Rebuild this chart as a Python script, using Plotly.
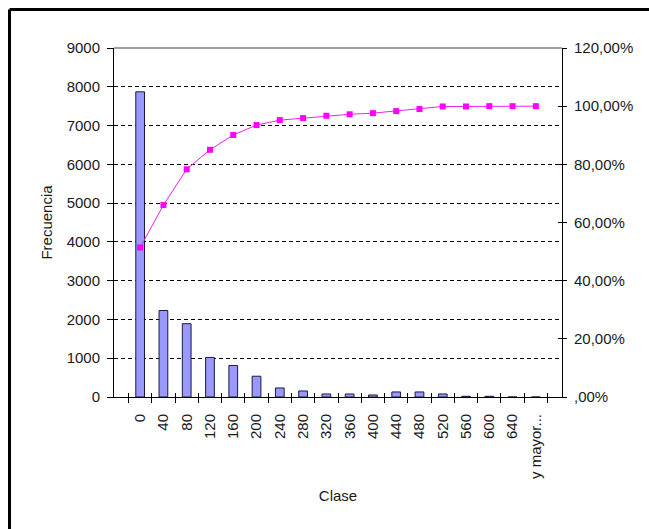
import plotly.graph_objects as go

clases = ["0", "40", "80", "120", "160", "200", "240", "280", "320", "360",
          "400", "440", "480", "520", "560", "600", "640", "y mayor..."]
frecuencia = [7870, 2230, 1890, 1020, 813, 536, 233, 155, 78, 78,
              52, 130, 130, 78, 18, 18, 0, 0]
acumulado_pct = [51.4, 66.0, 78.3, 85.0, 90.1, 93.5, 95.2, 95.9, 96.7, 97.2,
                 97.6, 98.3, 99.0, 99.9, 99.9, 100.0, 100.0, 100.0]

left_ticks = [0, 1000, 2000, 3000, 4000, 5000, 6000, 7000, 8000, 9000]
right_tickvals = [0, 20, 40, 60, 80, 100, 120]
right_ticktext = [",00%", "20,00%", "40,00%", "60,00%", "80,00%", "100,00%", "120,00%"]

FONT = "Liberation Sans, Arial, sans-serif"
TXT = "#1a1a1a"
FS = 15

fig = go.Figure()
fig.add_trace(go.Bar(
    x=clases, y=frecuencia, name="Frecuencia",
    marker=dict(color="#9999FF", line=dict(color="#1a1a3a", width=1)),
    xaxis="x", yaxis="y",
))
fig.add_trace(go.Scatter(
    x=clases, y=acumulado_pct, name="% acumulado", mode="lines+markers",
    line=dict(color="#F020F0", width=1),
    marker=dict(symbol="square", size=6, color="#FF00FF"),
    xaxis="x", yaxis="y2",
))
# invisible helper trace so the overlay axes draw the inner half of the crossing ticks
fig.add_trace(go.Scatter(
    x=clases, y=acumulado_pct, mode="markers", opacity=0,
    marker=dict(size=1), hoverinfo="skip", showlegend=False,
    xaxis="x2", yaxis="y3",
))

W, H = 649, 529
L, T = 114, 48
pw, ph = 448, 349
R, B = W - L - pw, H - T - ph

def px2x(p):
    return (p - L) / pw

def px2y(p):
    return (T + ph - p) / ph

tick_font = dict(family=FONT, size=FS, color=TXT)

fig.update_layout(
    width=W, height=H,
    margin=dict(l=L, r=R, t=T, b=B, pad=0),
    paper_bgcolor="white", plot_bgcolor="white",
    showlegend=False,
    bargap=0.625,
    font=dict(family=FONT, size=FS, color=TXT),
    xaxis=dict(
        type="category", categoryorder="array", categoryarray=clases,
        tickangle=-90, ticks="outside", ticklen=5, tickcolor="black",
        tickson="boundaries", ticklabelstandoff=10,
        showline=True, linecolor="black", linewidth=1,
        showgrid=False, zeroline=False,
        tickfont=tick_font,
        title=dict(text="Clase", standoff=12, font=tick_font),
    ),
    xaxis2=dict(
        type="category", categoryorder="array", categoryarray=clases,
        overlaying="x", matches="x", side="bottom", anchor="y",
        ticks="inside", ticklen=4, tickcolor="black", tickson="boundaries",
        showticklabels=False, showline=False, showgrid=False, zeroline=False,
    ),
    yaxis=dict(
        range=[0, 9000], tickvals=left_ticks,
        ticks="outside", ticklen=6, tickcolor="black", ticklabelstandoff=4,
        showline=True, linecolor="black", linewidth=1,
        showgrid=True, gridcolor="black", gridwidth=1, griddash="4px,3px",
        zeroline=False,
        tickfont=tick_font,
        title=dict(text="Frecuencia", standoff=10, font=tick_font),
    ),
    yaxis2=dict(
        range=[0, 120], overlaying="y", side="right",
        tickvals=right_tickvals, ticktext=right_ticktext,
        ticks="outside", ticklen=4, tickcolor="black", ticklabelstandoff=4,
        showline=True, linecolor="black", linewidth=1,
        showgrid=False, zeroline=False,
        tickfont=tick_font,
    ),
    yaxis3=dict(
        range=[0, 120], overlaying="y", side="right", anchor="x2",
        tickvals=right_tickvals,
        ticks="inside", ticklen=4, tickcolor="black",
        showticklabels=False, showline=False, showgrid=False, zeroline=False,
    ),
    shapes=[
        dict(type="line", xref="paper", yref="paper", x0=0, x1=1, y0=1, y1=1,
             line=dict(color="#808080", width=1.5)),
        dict(type="line", xref="paper", yref="paper",
             x0=px2x(9.5), x1=px2x(W + 5), y0=px2y(9.5), y1=px2y(9.5),
             line=dict(color="black", width=3)),
        dict(type="line", xref="paper", yref="paper",
             x0=px2x(9.5), x1=px2x(9.5), y0=px2y(9.5), y1=px2y(H + 5),
             line=dict(color="black", width=3)),
    ],
)

fig.write_html(
    "out.html",
    config={"displayModeBar": False},
    post_script="document.body.style.margin='0';document.body.style.overflow='hidden';",
)
